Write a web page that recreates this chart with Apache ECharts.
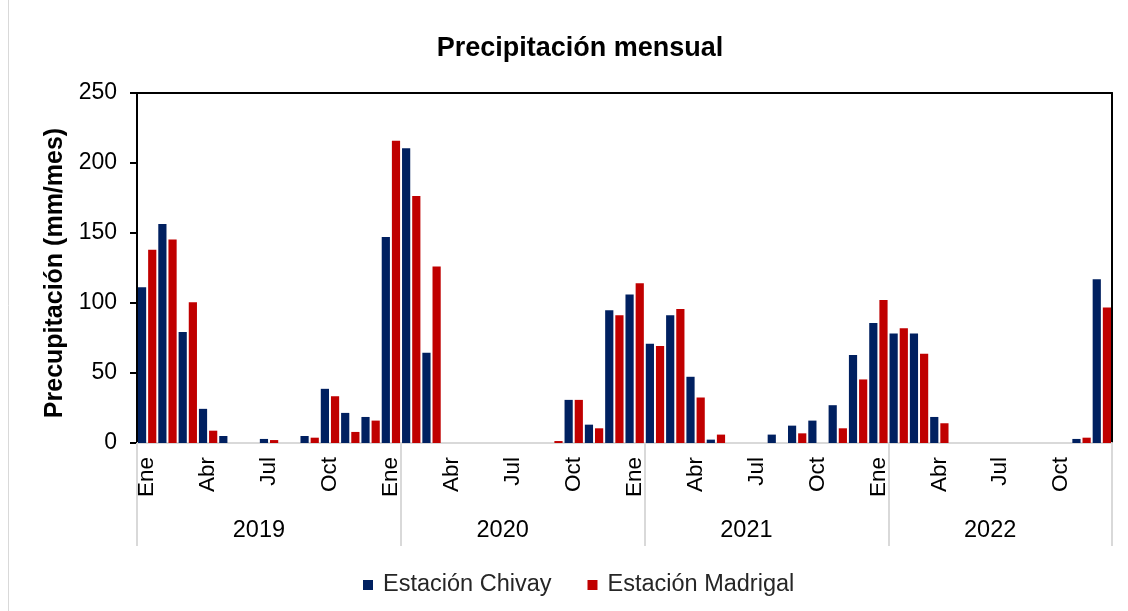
<!DOCTYPE html>
<html>
<head>
<meta charset="utf-8">
<script src="https://cdn.jsdelivr.net/npm/echarts@6/dist/echarts.min.js"></script>
<style>
  html, body { margin: 0; padding: 0; background: #fff; }
  #chart { width: 1128px; height: 611px; }
</style>
</head>
<body>
<div id="chart"></div>
<script>
// ---- data ----
const monthNames = ['Ene','Feb','Mar','Abr','May','Jun','Jul','Ago','Sep','Oct','Nov','Dic'];
const years = ['2019','2020','2021','2022'];
const yearGroupStarts = [0, 13, 25, 37];   // group separators of the category axis
const chivay = [
  111.3,156.4,79.3,24.4,5.0,0,2.9,0,5.0,38.7,21.5,18.6,
  147.1,210.6,64.5,0,0,0,0,0,0,30.8,13.1,94.8,
  106.0,70.9,91.2,47.3,2.4,0,0,6.0,12.4,16.0,27.0,62.8,
  85.7,78.3,78.3,18.6,0,0,0,0,0,0,2.9,117.0
];
const madrigal = [
  138.0,145.4,100.5,8.8,0,0,2.1,0,3.8,33.4,7.9,16.0,
  215.9,176.5,126.1,0,0,0,0,0,1.4,30.8,10.5,91.2,
  114.1,69.2,95.7,32.5,6.0,0,0,0,6.9,0,10.5,45.4,
  102.2,81.9,63.8,14.1,0,0,0,0,0,0,3.8,96.7
];
const yTicks = { min: 0, max: 250, interval: 50 };

// ---- build ----
const categories = [];
years.forEach(y => monthNames.forEach(m => categories.push(m + '-' + y)));

const FONT = "'Liberation Sans', Arial, sans-serif";
const chart = echarts.init(document.getElementById('chart'), null, { renderer: 'canvas' });

chart.setOption({
  animation: false,
  backgroundColor: '#ffffff',
  graphic: [{
    type: 'line', silent: true,
    shape: { x1: 8.5, y1: 0, x2: 8.5, y2: 611 },
    style: { stroke: '#d9d9d9', lineWidth: 1 }
  }],
  title: {
    text: 'Precipitación mensual',
    left: 575, top: 30, textAlign: 'center',
    textStyle: { fontFamily: FONT, fontSize: 27, fontWeight: 'bold', color: '#000' }
  },
  legend: {
    data: ['Estación Chivay', 'Estación Madrigal'],
    left: 358, top: 568,
    icon: 'rect', itemWidth: 10, itemHeight: 10, itemGap: 36,
    textStyle: { fontFamily: FONT, fontSize: 23.5, color: '#262626', padding: [0, 0, 0, 5] }
  },
  grid: { left: 137, right: 16, top: 93, bottom: 168, containLabel: false },
  xAxis: [
    { // months
      type: 'category', data: categories, position: 'bottom',
      axisLine: { onZero: false, lineStyle: { color: '#d9d9d9', width: 2 } },
      axisTick: { show: false },
      axisLabel: {
        interval: 2, rotate: 90, margin: 14,
        fontFamily: FONT, fontSize: 22.5, color: '#000',
        formatter: v => v.split('-')[0]
      },
      splitLine: { show: false }
    },
    { // year labels
      type: 'value', min: 0, max: categories.length, interval: 6, position: 'bottom',
      axisLine: { show: false, onZero: false },
      axisTick: { show: false },
      splitLine: { show: false },
      axisLabel: {
        margin: 76, fontFamily: FONT, fontSize: 23.5, color: '#000',
        showMinLabel: true, showMaxLabel: true,
        formatter: v => (v % 12 === 6) ? years[(v - 6) / 12] : ''
      }
    },
    { // year group separators
      type: 'category', data: categories, position: 'bottom',
      axisLine: { show: false, onZero: false },
      axisTick: {
        show: true, length: 103,
        interval: (i) => yearGroupStarts.indexOf(i) >= 0,
        lineStyle: { color: '#d9d9d9', width: 2 }
      },
      axisLabel: { show: false },
      splitLine: { show: false }
    },
    { // top border
      type: 'category', data: categories, position: 'top',
      axisLine: { show: true, onZero: false, lineStyle: { color: '#000', width: 2 } },
      axisTick: { show: false }, axisLabel: { show: false }, splitLine: { show: false }
    }
  ],
  yAxis: [
    {
      type: 'value', min: yTicks.min, max: yTicks.max, interval: yTicks.interval,
      position: 'left',
      name: 'Precupitación (mm/mes)', nameLocation: 'middle', nameGap: 63,
      nameTextStyle: { fontFamily: FONT, fontSize: 25, fontWeight: 'bold', color: '#000', padding: [0, 10, 0, 0] },
      axisLine: { show: true, onZero: false, lineStyle: { color: '#000', width: 2 } },
      axisTick: { show: true, inside: false, length: 7, lineStyle: { color: '#000', width: 2 } },
      axisLabel: { margin: 20, fontFamily: FONT, fontSize: 23, color: '#000' },
      splitLine: { show: false }
    },
    {
      type: 'value', min: yTicks.min, max: yTicks.max, position: 'right',
      axisLine: { show: true, onZero: false, lineStyle: { color: '#000', width: 2 } },
      axisTick: { show: false }, axisLabel: { show: false }, splitLine: { show: false }
    }
  ],
  series: [
    {
      name: 'Estación Chivay', type: 'bar', xAxisIndex: 0, yAxisIndex: 0,
      data: chivay, barGap: '24%', barCategoryGap: '9.6%',
      itemStyle: { color: '#002060' }
    },
    {
      name: 'Estación Madrigal', type: 'bar', xAxisIndex: 0, yAxisIndex: 0,
      data: madrigal, barGap: '24%', barCategoryGap: '9.6%',
      itemStyle: { color: '#C00000' }
    }
  ]
});
</script>
</body>
</html>
